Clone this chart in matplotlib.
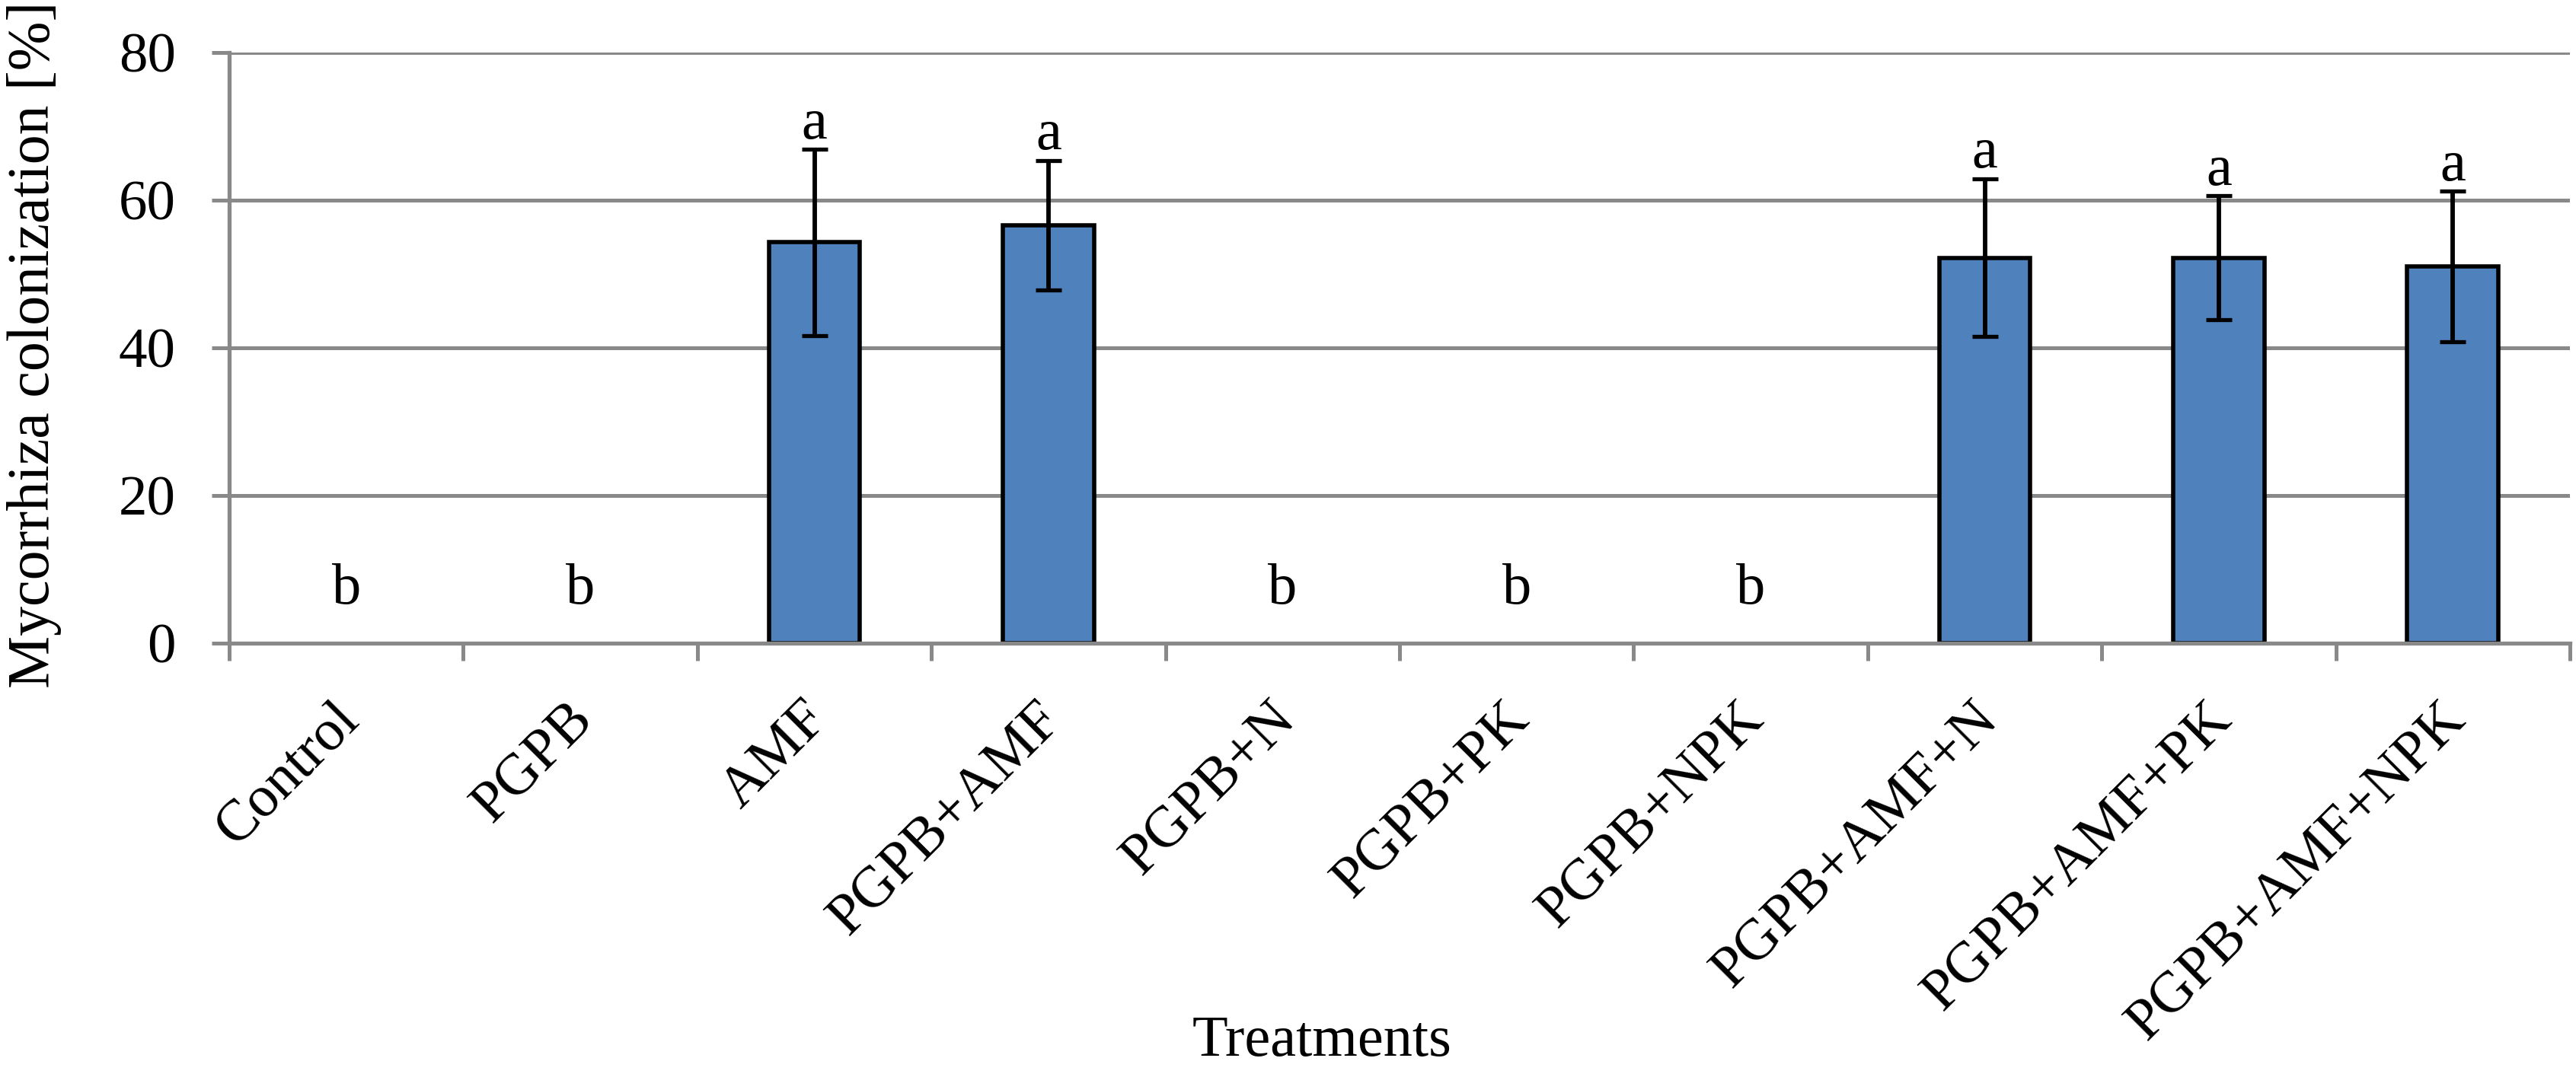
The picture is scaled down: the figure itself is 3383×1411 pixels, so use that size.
import matplotlib
matplotlib.use("Agg")
import matplotlib.pyplot as plt
import matplotlib.transforms as mtransforms
import numpy as np

treatments = ["Control", "PGPB", "AMF", "PGPB+AMF", "PGPB+N", "PGPB+PK",
              "PGPB+NPK", "PGPB+AMF+N", "PGPB+AMF+PK", "PGPB+AMF+NPK"]
colonization = [0, 0, 54.3, 56.6, 0, 0, 0, 52.2, 52.2, 51.0]
errors = [0, 0, 12.6, 8.8, 0, 0, 0, 10.7, 8.4, 10.2]
letters = ["b", "b", "a", "a", "b", "b", "b", "a", "a", "a"]
yticks = [0, 20, 40, 60, 80]

plt.rcParams['font.family'] = ['Liberation Serif', 'DejaVu Serif']

W, H, DPI = 3383, 1411, 100
fig = plt.figure(figsize=(W / DPI, H / DPI), dpi=DPI)
ax = fig.add_axes([301 / W, 1 - 845 / H, (3375 - 301) / W, (845 - 69) / H])

grid_c = "#898989"
bar_c = "#4F81BD"
x = np.arange(len(treatments))

vals = np.array(colonization)
errs = np.array(errors)
nz = vals > 0
ax.bar(x[nz], vals[nz], width=0.39, color=bar_c, edgecolor="black",
       linewidth=4.0, zorder=3)
ax.errorbar(x[nz], vals[nz], yerr=errs[nz], fmt="none", ecolor="black",
            elinewidth=4.2, capsize=12.5, capthick=3.8, zorder=4)

for xi, v, e, lab in zip(x, vals, errs, letters):
    y = v + e + 1.5 if v > 0 else 5.4
    ax.text(xi, y, lab, ha="center", va="baseline", fontsize=55, zorder=5)

ax.set_xlim(-0.5, len(treatments) - 0.5)
ax.set_ylim(0, 80)
ax.set_yticks(yticks)
ax.set_yticklabels([str(t) for t in yticks])
ax.yaxis.grid(True, color=grid_c, linewidth=3.6, zorder=0)
ax.set_axisbelow(True)

for s in ["top", "right"]:
    ax.spines[s].set_visible(False)
for s in ["left", "bottom"]:
    ax.spines[s].set_color(grid_c)
    ax.spines[s].set_linewidth(3.8)
    ax.spines[s].set_zorder(6)

ax.tick_params(axis="y", direction="out", length=16.5, width=3.6,
               color=grid_c, pad=34, labelsize=54)

ax.set_xticks(x)
ax.set_xticklabels(treatments, rotation=45, rotation_mode="anchor",
                   ha="right", va="top", fontsize=55)
ax.set_xticks(np.arange(len(treatments) + 1) - 0.5, minor=True)
ax.tick_params(axis="x", which="major", length=0, pad=46.5)
ax.tick_params(axis="x", which="minor", direction="out", length=16.5,
               width=3.6, color=grid_c)
off = mtransforms.ScaledTranslation(-18 / DPI, 0, fig.dpi_scale_trans)
for lbl in ax.get_xticklabels():
    lbl.set_transform(lbl.get_transform() + off)

fig.text(45 / W, 1 - 453 / H, "Mycorrhiza colonization [%]", rotation=90,
         ha="center", va="center", fontsize=56)
fig.text(1736 / W, 1 - 1387 / H, "Treatments", ha="center", va="baseline",
         fontsize=55)

fig.savefig("out.png", dpi=DPI, facecolor="white")
